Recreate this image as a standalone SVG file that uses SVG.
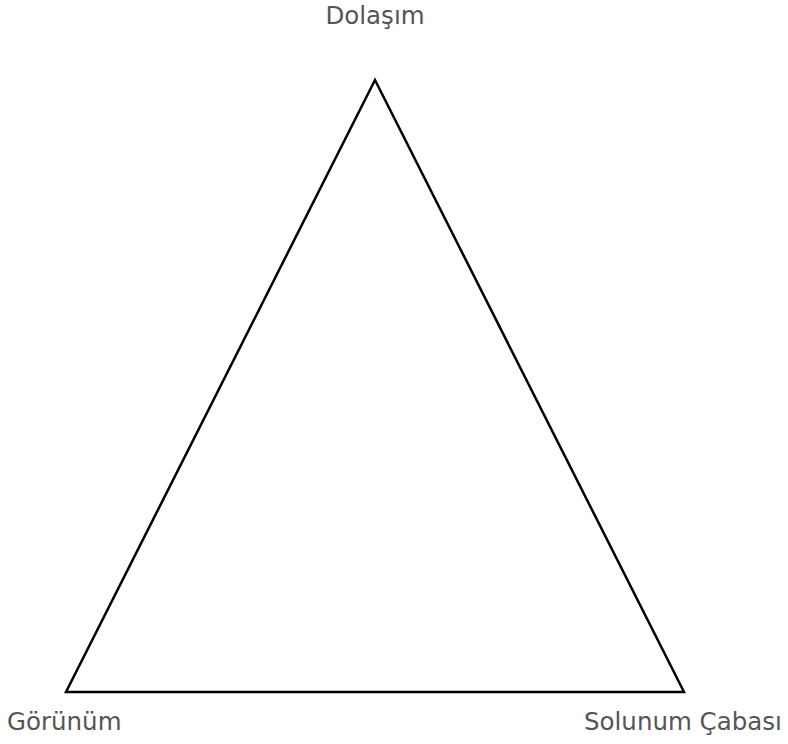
<svg xmlns="http://www.w3.org/2000/svg" width="788" height="744" viewBox="0 0 788 744">
<style>
.lbl{font-family:"DejaVu Sans",sans-serif;font-size:24.5px;fill:#555}
.edge{fill:none;stroke:#000;stroke-width:2.5;stroke-linejoin:miter}
</style>
<rect width="788" height="744" fill="#fff"/>
<g id="connectors">
<polygon class="edge" points="375,80 684,692 66,692"/>
</g>
<g id="node-dolasim"><text class="lbl" x="375" y="24" text-anchor="middle">Dolaşım</text></g>
<g id="node-gorunum"><text class="lbl" x="7" y="730">Görünüm</text></g>
<g id="node-solunum"><text class="lbl" x="584" y="730">Solunum Çabası</text></g>
</svg>
